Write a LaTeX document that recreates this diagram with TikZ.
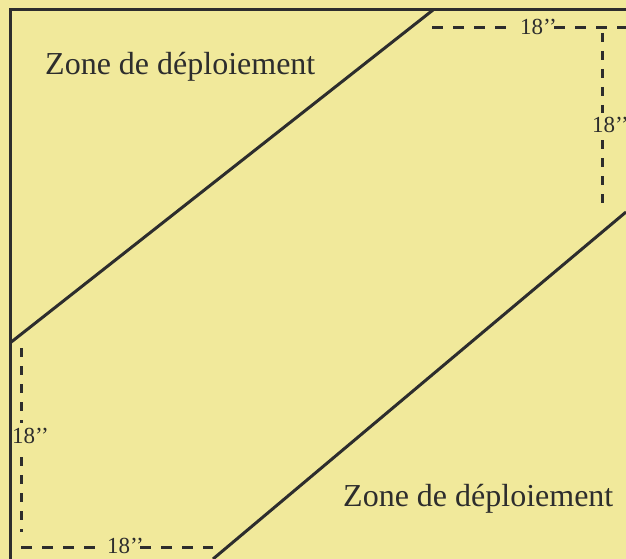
\documentclass[tikz,border=0pt]{standalone}
\usepackage{fontspec}
\setmainfont{Liberation Serif}
\definecolor{bg}{RGB}{241,233,155}
\definecolor{ink}{RGB}{45,45,45}
\begin{document}
\begin{tikzpicture}[x=1pt,y=-1pt,
  edge/.style={line width=3pt, draw=ink},
  dimh/.style={line width=3pt, draw=ink, dash pattern=on 11pt off 10pt},
  dimv/.style={line width=3pt, draw=ink, dash pattern=on 9pt off 9pt},
  zone/.style={font=\fontsize{32}{38}\selectfont, text=ink, inner sep=0pt, anchor=base west},
  lab/.style={font=\fontsize{23}{27}\selectfont, text=ink, inner sep=0pt, anchor=base west}]
\fill[bg] (0,0) rectangle (626,559);
\useasboundingbox (0,0) rectangle (626,559);
\clip (0,0) rectangle (626,559);
% frame
\coordinate (fTR) at (630,10);
\coordinate (fTL) at (10,10);
\coordinate (fBL) at (10,563);
\draw[edge] (fTR) -- (fTL) -- (fBL);
% diagonals
\coordinate (d1a) at (433,10);
\coordinate (d1b) at (10,343);
\coordinate (d2a) at (626,212);
\coordinate (d2b) at (213,559);
\draw[edge] (d1a) -- (d1b);
\draw[edge] (d2a) -- (d2b);
% texts
\node[zone] (z1) at (45,75) {Zone de déploiement};
\node[zone] (z2) at (343,506) {Zone de déploiement};
% top dimension
\node[lab] (l1) at (520,35) {18’’};
\coordinate (t1) at (432,28);
\coordinate (t2) at (511,28);
\coordinate (t3) at (554,28);
\coordinate (t4) at (630,28);
\draw[dimh] (t1) -- (t2);
\draw[dimh] (t3) -- (t4);
% right dimension
\node[lab] (l2) at (592,132) {18’’};
\coordinate (r1) at (602,33);
\coordinate (r2) at (602,113);
\coordinate (r3) at (602,140);
\coordinate (r4) at (602,210);
\draw[dimv] (r1) -- (r2);
\draw[dimv] (r3) -- (r4);
% left dimension
\node[lab] (l3) at (12,443) {18’’};
\coordinate (v1) at (21,348);
\coordinate (v2) at (21,423);
\coordinate (v3) at (21,457);
\coordinate (v4) at (21,532);
\draw[dimv] (v1) -- (v2);
\draw[dimv] (v3) -- (v4);
% bottom dimension
\node[lab] (l4) at (107,553) {18’’};
\coordinate (b1) at (21,547);
\coordinate (b2) at (99,547);
\coordinate (b3) at (140,547);
\coordinate (b4) at (213,547);
\draw[dimh] (b1) -- (b2);
\draw[dimh] (b3) -- (b4);
\end{tikzpicture}
\end{document}
